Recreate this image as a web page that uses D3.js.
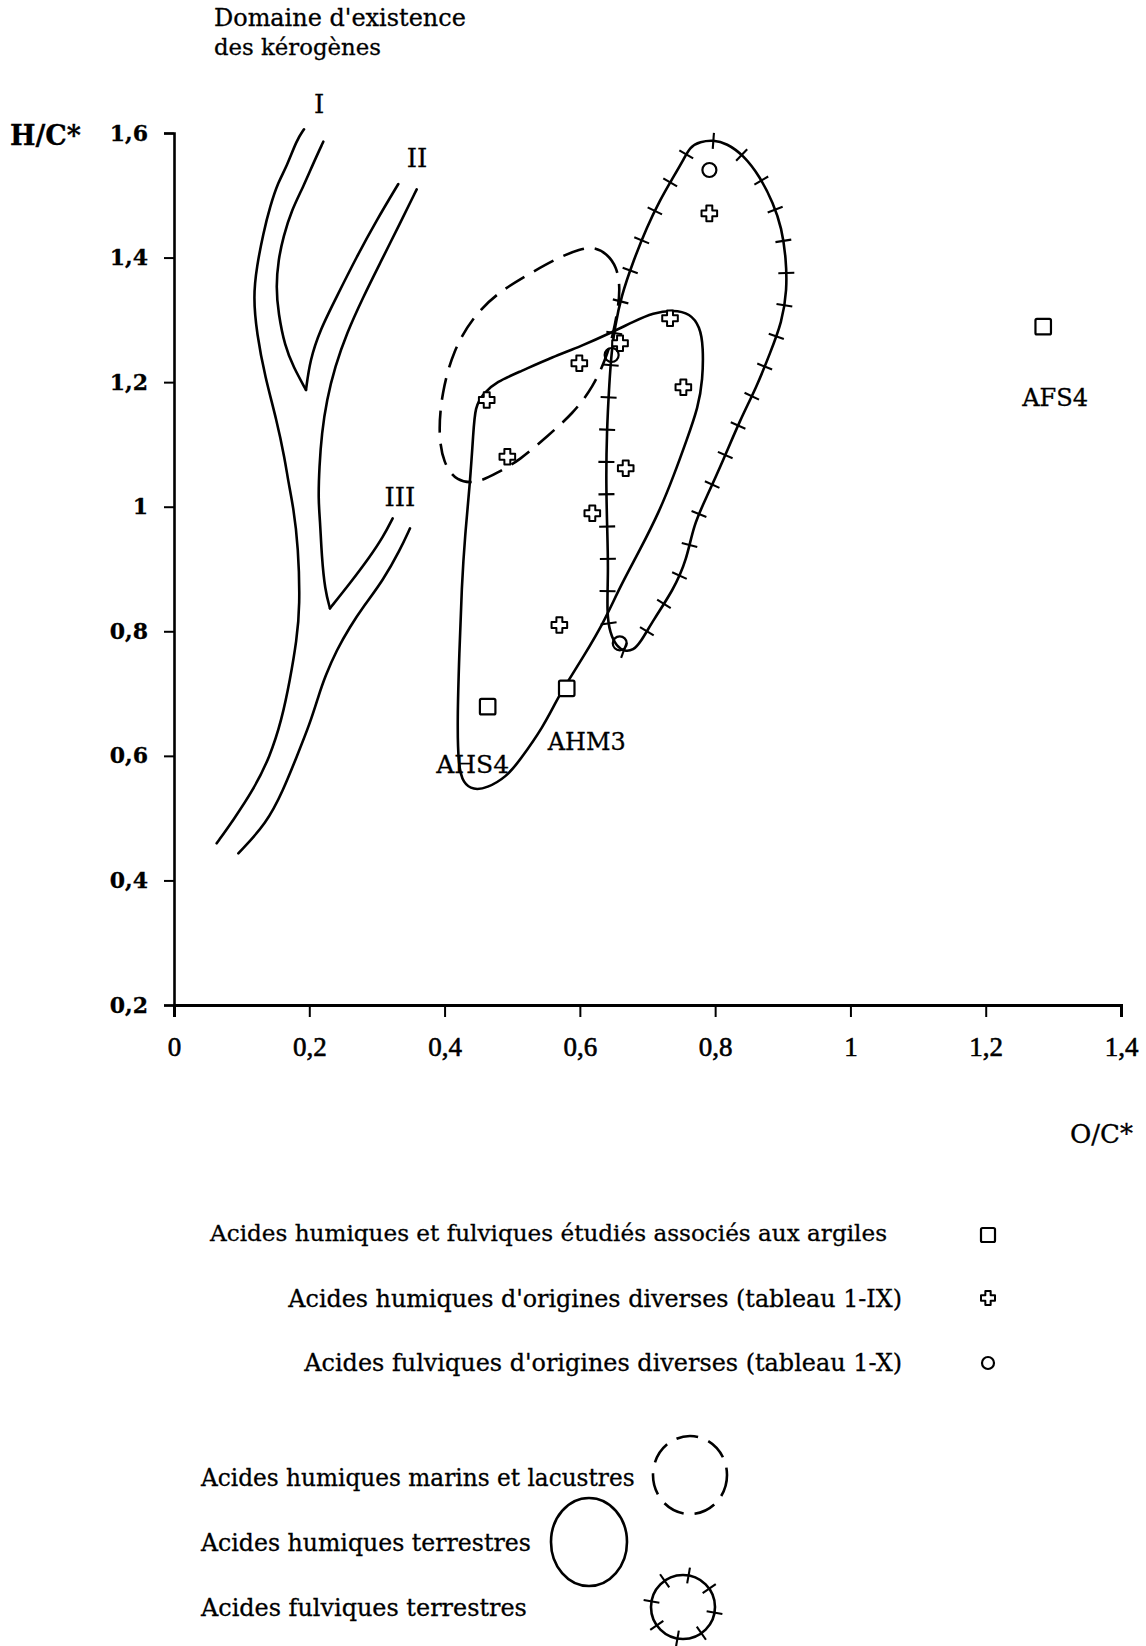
<!DOCTYPE html>
<html><head><meta charset="utf-8">
<script src="https://cdn.jsdelivr.net/npm/d3@7"></script>
<style>body{margin:0;background:#fff} text{stroke:#000;stroke-width:0.3px}</style>
</head><body>
<script>
// ---------- DATA ----------
const xTicks = [0, 0.2, 0.4, 0.6, 0.8, 1, 1.2, 1.4];
const xTickLabels = ["0", "0,2", "0,4", "0,6", "0,8", "1", "1,2", "1,4"];
const yTicks = [0.2, 0.4, 0.6, 0.8, 1, 1.2, 1.4, 1.6];
const yTickLabels = ["0,2", "0,4", "0,6", "0,8", "1", "1,2", "1,4", "1,6"];

// Acides humiques et fulviques étudiés associés aux argiles (squares)
const argileNames = ["AFS4", "AHS4", "AHM3"];
const argileOC = [1.285, 0.4637, 0.5806];
const argileHC = [1.289, 0.679, 0.7085];

// Acides humiques d'origines diverses (crosses)
const humicOC = [0.7914, 0.7333, 0.6594, 0.5992, 0.4623, 0.7530, 0.4928, 0.6678, 0.6184, 0.5697];
const humicHC = [1.471, 1.3025, 1.2624, 1.2303, 1.1713, 1.1917, 1.0803, 1.0617, 0.9894, 0.810];

// Acides fulviques d'origines diverses (circles)
const fulvicOC = [0.7915, 0.647, 0.659];
const fulvicHC = [1.5406, 1.2436, 0.7807];

// Kerogen evolution paths (O/C, H/C)
const kerOuter = [[0.1922,1.606],[0.1814,1.5888],[0.1666,1.5459],[0.1542,1.5218],[0.1419,1.4817],[0.1320,1.4390],[0.1223,1.3853],[0.1172,1.3372],[0.1223,1.2784],[0.1345,1.2087],[0.1518,1.1392],[0.1641,1.075],[0.1685,1.0429],[0.1764,1.0],[0.1838,0.9358],[0.1863,0.8395],[0.1814,0.786],[0.1715,0.7218],[0.1592,0.6576],[0.1419,0.5986],[0.1172,0.5452],[0.0877,0.4970],[0.0631,0.4596]];
const kerIinner = [[0.2207,1.586],[0.2059,1.5513],[0.1912,1.5138],[0.1740,1.4764],[0.1616,1.4335],[0.1542,1.3961],[0.1508,1.3532],[0.1542,1.3105],[0.1641,1.2569],[0.1764,1.2248],[0.1951,1.1874]];
const kerIIleft = [[0.1951,1.1874],[0.2011,1.2356],[0.2159,1.2837],[0.2405,1.3372],[0.2701,1.4014],[0.2997,1.4603],[0.3316,1.5181]];
const kerIIright = [[0.3588,1.5096],[0.3341,1.455],[0.3046,1.3908],[0.2799,1.3372],[0.2553,1.2784],[0.2380,1.2248],[0.2258,1.1713],[0.2184,1.1179],[0.2148,1.0642],[0.2133,1.0108],[0.2159,0.9787],[0.2184,0.9198],[0.2232,0.8663],[0.2306,0.8369]];
const kerIIIleft = [[0.2306,0.8369],[0.2602,0.877],[0.2898,0.9198],[0.3094,0.9519],[0.3233,0.9814]];
const kerIIIright = [[0.3489,0.9653],[0.3341,0.9305],[0.3094,0.8823],[0.2799,0.8395],[0.2602,0.8074],[0.2405,0.770],[0.2232,0.7271],[0.2133,0.695],[0.2011,0.6523],[0.1814,0.5986],[0.1616,0.5452],[0.1370,0.4917],[0.0951,0.4435]];
const kerLabels = ["I", "II", "III"];
const kerLabelOC = [0.2145, 0.3593, 0.3341];
const kerLabelHC = [1.632, 1.5454, 1.0011];

// Domains (closed outlines)
const humicTerrestre = [[0.4573,1.1821],[0.4771,1.2007],[0.5115,1.2168],[0.5608,1.2408],[0.6002,1.2569],[0.6495,1.281],[0.6790,1.297],[0.7086,1.3115],[0.7382,1.3158],[0.7629,1.3105],[0.7776,1.289],[0.7825,1.2569],[0.7816,1.2034],[0.7751,1.1606],[0.7580,1.1071],[0.7382,1.0482],[0.7185,0.9947],[0.6889,0.9305],[0.6594,0.8716],[0.6347,0.8128],[0.6051,0.7592],[0.5806,0.7165],[0.5658,0.6897],[0.5460,0.6468],[0.5115,0.5933],[0.4919,0.5665],[0.4623,0.5479],[0.4425,0.5452],[0.4277,0.5559],[0.4203,0.5826],[0.4188,0.6576],[0.4218,0.7647],[0.4253,0.8716],[0.4302,0.9546],[0.4376,1.0376],[0.4425,1.1179],[0.4450,1.1606]];
const humicMarin = [[0.6199,1.4175],[0.6397,1.4069],[0.6545,1.3853],[0.6594,1.3532],[0.6569,1.3211],[0.6495,1.2784],[0.6397,1.2408],[0.6199,1.1927],[0.5903,1.15],[0.5510,1.1124],[0.5115,1.075],[0.4771,1.0537],[0.4475,1.0376],[0.4180,1.0402],[0.3981,1.0697],[0.3908,1.1179],[0.3958,1.1821],[0.4129,1.2516],[0.4425,1.3051],[0.4771,1.3426],[0.5263,1.3747],[0.5707,1.4014],[0.6002,1.4133]];
const fulvicTerrestre = [[0.7777,1.586],[0.7973,1.5888],[0.8171,1.5834],[0.8417,1.5647],[0.8664,1.5298],[0.8860,1.4871],[0.8984,1.4475],[0.9048,1.3993],[0.9063,1.3479],[0.8989,1.2966],[0.8811,1.2463],[0.8615,1.1927],[0.8368,1.1392],[0.8121,1.075],[0.7876,1.0161],[0.7680,0.9706],[0.7580,0.9144],[0.7382,0.8663],[0.7086,0.8181],[0.6889,0.7807],[0.6790,0.770],[0.6668,0.7672],[0.6545,0.7753],[0.6446,0.7968],[0.6397,0.8289],[0.6421,0.8984],[0.6406,0.9573],[0.6387,1.0376],[0.6397,1.1179],[0.6435,1.1981],[0.6471,1.2516],[0.6520,1.289],[0.6608,1.3367],[0.6790,1.3945],[0.6993,1.4496],[0.7185,1.4924],[0.7358,1.5250],[0.7530,1.5566],[0.7629,1.578]];

const legendPoints = ["Acides humiques et fulviques étudiés associés aux argiles", "Acides humiques d'origines diverses (tableau 1-IX)", "Acides fulviques d'origines diverses (tableau 1-X)"];
const legendDomains = ["Acides humiques marins et lacustres", "Acides humiques terrestres", "Acides fulviques terrestres"];

// ---------- DRAW ----------
const W = 1146, H = 1646;
const svg = d3.select("body").append("svg").attr("width", W).attr("height", H);
const x = d3.scaleLinear().domain([0, 1.4]).range([174, 1121]);
const y = d3.scaleLinear().domain([0.2, 1.6]).range([1005, 133]);
const SERIF = "DejaVu Serif";
const LW = 2.6;

function fit(sel, w) {
  const n = sel.node(); const fs = +sel.attr("font-size");
  const m = n.getComputedTextLength(); if (m > 0) sel.attr("font-size", fs * w / m);
  return sel;
}
function txt(str, px, py, fs, opts = {}) {
  const t = svg.append("text").attr("x", px).attr("y", py).attr("font-family", opts.family || SERIF)
    .attr("font-size", fs).attr("font-weight", opts.weight || "normal").attr("text-anchor", opts.anchor || "start")
    .attr("fill", "#000").text(str);
  if (opts.width) fit(t, opts.width);
  return t;
}

// axes
const gy = svg.append("g").attr("transform", `translate(${x(0)},0)`)
  .call(d3.axisLeft(y).tickValues(yTicks).tickFormat((d, i) => yTickLabels[i]).tickSizeOuter(0).tickSize(10).tickPadding(16));
gy.select(".domain").attr("stroke", "#000").attr("stroke-width", 2.6);
gy.selectAll(".tick line").attr("stroke", "#000").attr("stroke-width", 2);
gy.selectAll(".tick text").attr("font-family", SERIF).attr("font-weight", "bold").attr("font-size", 22).attr("fill", "#000");

const gx = svg.append("g").attr("transform", `translate(0,${y(0.2)})`)
  .call(d3.axisBottom(x).tickValues(xTicks).tickFormat((d, i) => xTickLabels[i]).tickSizeOuter(0).tickSize(12));
gx.select(".domain").attr("stroke", "#000").attr("stroke-width", 3);
gx.selectAll(".tick line").attr("stroke", "#000").attr("stroke-width", 2);
gx.selectAll(".tick text").attr("font-family", "Liberation Serif").attr("font-size", 27).attr("fill", "#000")
  .attr("y", 51).attr("dy", 0).style("stroke-width", "0.6px");

// axis titles
txt("H/C*", 10, 145, 22, { weight: "bold", width: 71 });
txt("O/C*", 1070, 1143, 24, { width: 63 });
txt("Domaine d'existence", 214, 26, 20, { width: 252 });
txt("des kérogènes", 214, 55, 20, { width: 167 });

// kerogen curves
const openLine = d3.line().x(d => x(d[0])).y(d => y(d[1])).curve(d3.curveBasis);
const closedLine = d3.line().x(d => x(d[0])).y(d => y(d[1])).curve(d3.curveBasisClosed);
[kerOuter, kerIinner, kerIIleft, kerIIright, kerIIIleft, kerIIIright].forEach(p => {
  svg.append("path").attr("d", openLine(p)).attr("fill", "none").attr("stroke", "#000").attr("stroke-width", LW).attr("stroke-linecap", "round");
});
kerLabels.forEach((l, i) => {
  svg.append("text").attr("x", x(kerLabelOC[i])).attr("y", y(kerLabelHC[i])).attr("text-anchor", "middle")
    .attr("font-family", SERIF).attr("font-size", 26).text(l);
});

// domains
svg.append("path").attr("d", closedLine(humicMarin)).attr("fill", "none").attr("stroke", "#000")
  .attr("stroke-width", LW).attr("stroke-dasharray", "22,11");
svg.append("path").attr("d", closedLine(humicTerrestre)).attr("fill", "none").attr("stroke", "#000").attr("stroke-width", LW);
const fp = svg.append("path").attr("d", closedLine(fulvicTerrestre)).attr("fill", "none").attr("stroke", "#000").attr("stroke-width", LW);
(function () {
  const node = fp.node(), L = node.getTotalLength(), n = Math.round(L / 32);
  for (let i = 0; i < n; i++) {
    const s = i * L / n, p = node.getPointAtLength(s), q = node.getPointAtLength((s + 1) % L);
    let dx = q.x - p.x, dy = q.y - p.y; const len = Math.hypot(dx, dy) || 1; dx /= len; dy /= len;
    svg.append("line").attr("x1", p.x - dy * 8).attr("y1", p.y + dx * 8).attr("x2", p.x + dy * 8).attr("y2", p.y - dx * 8)
      .attr("stroke", "#000").attr("stroke-width", 2.1);
  }
})();

// markers
const crossPath = (a, w) => `M${-w},${-a}H${w}V${-w}H${a}V${w}H${w}V${a}H${-w}V${w}H${-a}V${-w}H${-w}Z`;
function square(px, py, s) {
  svg.append("rect").attr("x", px - s / 2).attr("y", py - s / 2).attr("width", s).attr("height", s).attr("rx", 1.5)
    .attr("fill", "#fff").attr("stroke", "#000").attr("stroke-width", 2.2);
}
function cross(px, py, a) {
  svg.append("path").attr("d", crossPath(a, a * 0.38)).attr("transform", `translate(${px},${py})`)
    .attr("fill", "#fff").attr("stroke", "#000").attr("stroke-width", 2).attr("stroke-linejoin", "round");
}
function ring(px, py, r) {
  svg.append("circle").attr("cx", px).attr("cy", py).attr("r", r).attr("fill", "none").attr("stroke", "#000").attr("stroke-width", 2.2);
}
humicOC.forEach((v, i) => cross(x(v), y(humicHC[i]), 7.8));
fulvicOC.forEach((v, i) => ring(x(v), y(fulvicHC[i]), 7));
argileOC.forEach((v, i) => square(x(v), y(argileHC[i]), 15.5));

// sample labels
const labOff = [[12, 79, 66], [-15, 66, 73], [20, 62, 78]];
argileNames.forEach((nm, i) => {
  txt(nm, x(argileOC[i]) + labOff[i][0], y(argileHC[i]) + labOff[i][1], 20, { anchor: "middle", width: labOff[i][2] });
});

// legend (points)
const lpEnd = [887, 902, 902], lpBase = [1241, 1307, 1371], lpW = [677, 614, 598];
legendPoints.forEach((s, i) => txt(s, lpEnd[i], lpBase[i], 21, { anchor: "end", width: lpW[i] }));
square(988, 1235, 14);
cross(988, 1298, 7);
ring(988, 1363, 6);

// legend (domains)
const ldBase = [1486, 1551, 1616], ldW = [434, 330, 326];
legendDomains.forEach((s, i) => txt(s, 201, ldBase[i], 21, { width: ldW[i] }));
svg.append("ellipse").attr("cx", 690).attr("cy", 1475).attr("rx", 37).attr("ry", 39).attr("fill", "none")
  .attr("stroke", "#000").attr("stroke-width", LW).attr("stroke-dasharray", "22,11");
svg.append("ellipse").attr("cx", 589).attr("cy", 1542).attr("rx", 38).attr("ry", 44).attr("fill", "none")
  .attr("stroke", "#000").attr("stroke-width", LW);
svg.append("circle").attr("cx", 683).attr("cy", 1607).attr("r", 32).attr("fill", "none").attr("stroke", "#000").attr("stroke-width", LW);
for (let k = 0; k < 8; k++) {
  const a = (k * 45 - 80) * Math.PI / 180, cx = 683 + 32 * Math.cos(a), cy = 1607 + 32 * Math.sin(a);
  svg.append("line").attr("x1", cx - 8 * Math.cos(a)).attr("y1", cy - 8 * Math.sin(a))
    .attr("x2", cx + 8 * Math.cos(a)).attr("y2", cy + 8 * Math.sin(a)).attr("stroke", "#000").attr("stroke-width", 2.1);
}
</script>
</body></html>
